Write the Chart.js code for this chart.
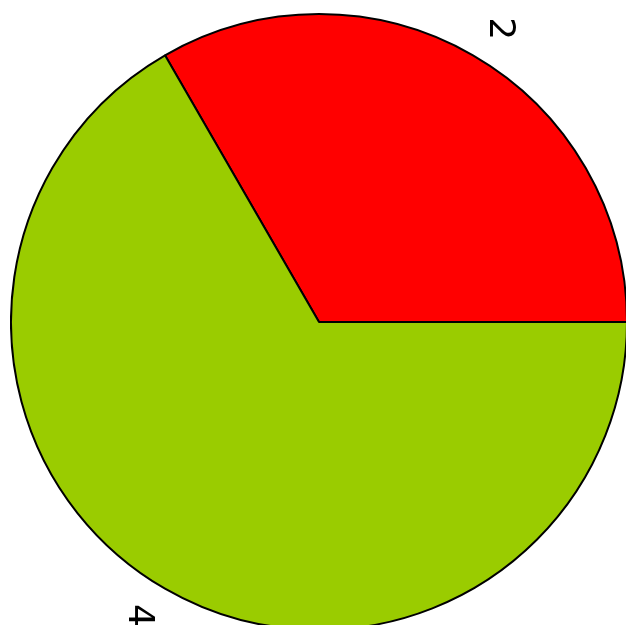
<!DOCTYPE html>
<html lang="en">
<head>
  <meta charset="UTF-8" />
  <title>Pie</title>
  <script src="https://cdn.jsdelivr.net/npm/chart.js"></script>
  <style>
    html, body { margin: 0; padding: 0; width: 626px; height: 625px; overflow: hidden; background: #fff; }
    #wrap { position: absolute; left: 10px; top: 13px; width: 618px; height: 618px; }
  </style>
</head>
<body>
  <div id="wrap"><canvas id="pieChart"></canvas></div>

  <script>
    const labels = ["2", "4"];
    const values = [2, 4];
    const colors = ["#FF0000", "#9ACC00"];

    // R-style labels: outside the pie at 1.1 * radius, rotated 90 degrees
    const sliceLabels = {
      id: "sliceLabels",
      afterDraw(chart) {
        const ctx = chart.ctx;
        const arcs = chart.getDatasetMeta(0).data;
        ctx.save();
        ctx.font = "36px 'DejaVu Sans', sans-serif";
        ctx.fillStyle = "#000";
        ctx.textAlign = "center";
        ctx.textBaseline = "middle";
        arcs.forEach((arc, i) => {
          const mid = (arc.startAngle + arc.endAngle) / 2;
          const r = arc.outerRadius * 1.1;
          let x = arc.x + Math.cos(mid) * r;
          const y = arc.y + Math.sin(mid) * r;
          x += Math.cos(mid) > 0 ? 11 : -11;
          ctx.save();
          ctx.translate(x, y);
          ctx.rotate(Math.PI / 2);
          ctx.fillText(labels[i], 0, 0);
          ctx.restore();
        });
        ctx.restore();
      }
    };

    new Chart(document.getElementById("pieChart"), {
      type: "pie",
      data: {
        labels: labels,
        datasets: [{
          data: values,
          backgroundColor: colors,
          borderColor: "#000",
          borderWidth: 2
        }]
      },
      options: {
        responsive: true,
        maintainAspectRatio: false,
        animation: false,
        rotation: -30,
        layout: { padding: 0 },
        plugins: {
          legend: { display: false },
          tooltip: { enabled: false }
        }
      },
      plugins: [sliceLabels]
    });
  </script>
</body>
</html>
